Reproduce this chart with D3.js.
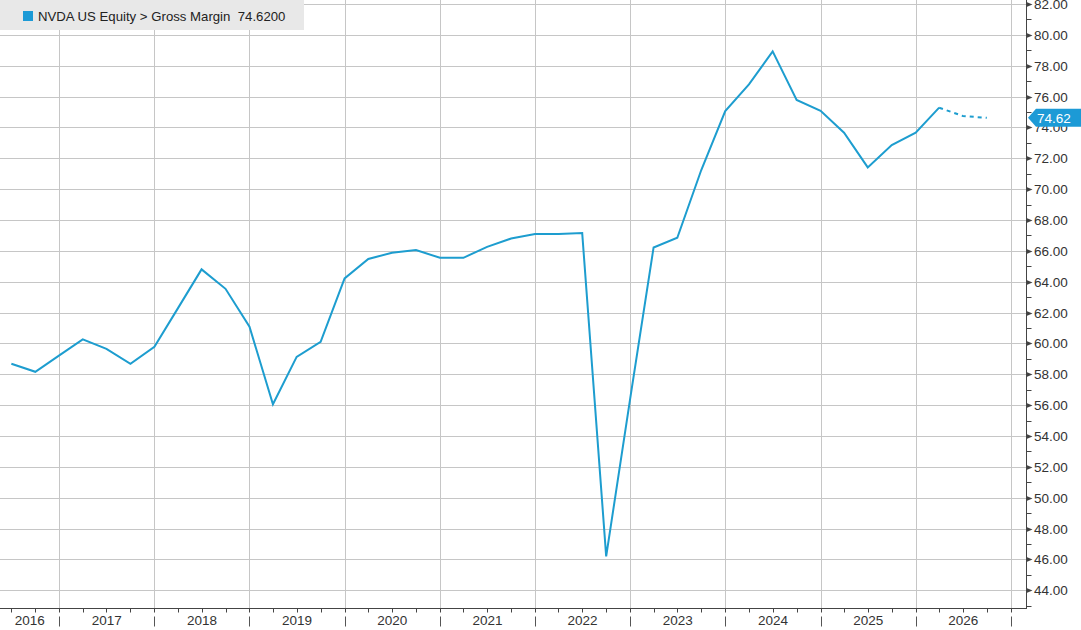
<!DOCTYPE html>
<html><head><meta charset="utf-8">
<script src="https://cdn.jsdelivr.net/npm/d3@7/dist/d3.min.js"></script>
<style>
html,body{margin:0;padding:0;background:#fff;}
svg{display:block;font-family:"Liberation Sans",Arial,sans-serif;}
</style></head>
<body><svg id="c" width="1081" height="630"></svg>
<script>
// ---- data ----
const quarterStarts = ["2016-07-01","2016-10-01","2017-01-01","2017-04-01","2017-07-01","2017-10-01",
 "2018-01-01","2018-04-01","2018-07-01","2018-10-01","2019-01-01","2019-04-01","2019-07-01","2019-10-01",
 "2020-01-01","2020-04-01","2020-07-01","2020-10-01","2021-01-01","2021-04-01","2021-07-01","2021-10-01",
 "2022-01-01","2022-04-01","2022-07-01","2022-10-01","2023-01-01","2023-04-01","2023-07-01","2023-10-01",
 "2024-01-01","2024-04-01","2024-07-01","2024-10-01","2025-01-01","2025-04-01","2025-07-01","2025-10-01",
 "2026-01-01","2026-04-01","2026-07-01","2026-10-01"];
const grossMargin = [58.68,58.16,59.22,60.26,59.65,58.68,59.78,62.27,64.80,63.54,61.08,56.06,59.13,60.10,
 64.21,65.47,65.88,66.05,65.55,65.55,66.26,66.80,67.09,67.09,67.15,46.20,56.40,66.22,66.85,71.24,
 75.06,76.79,78.93,75.78,75.08,73.66,71.41,72.86,73.66,75.28,74.74,74.62];
const estimateFrom = 39; // index where the dashed (estimate) segment starts
const yearLabels = ["2016","2017","2018","2019","2020","2021","2022","2023","2024","2025","2026"];
const yTickValues = d3.range(44, 82.01, 2);
const legendText = "NVDA US Equity > Gross Margin  74.6200";
const lastLabel = "74.62";

// ---- layout ----
const svg = d3.select("#c");
const plotRight = 1026.3, plotBottom = 608.3;
const parse = d3.utcParse("%Y-%m-%d");
const dates = quarterStarts.map(parse);
const data = dates.map((d,i)=>({d, v: grossMargin[i]}));

const x = d3.scaleUtc().domain([parse("2017-01-01"), parse("2026-01-01")]).range([59.3, 915.7]);
const y = d3.scaleLinear().domain([42.83, 82.26]).range([plotBottom, 0]);

const gridColor = "#c6c6c6";
const lineColor = "#1d9dcf";

// horizontal gridlines
svg.append("g").selectAll("line").data(yTickValues).join("line")
  .attr("x1", 0).attr("x2", plotRight)
  .attr("y1", d=>Math.round(y(d))+0.5).attr("y2", d=>Math.round(y(d))+0.5)
  .attr("stroke", gridColor).attr("stroke-width", 1);

// vertical year gridlines
const yearStarts = d3.range(2017, 2028).map(yv => new Date(Date.UTC(yv,0,1)));
svg.append("g").selectAll("line").data(yearStarts.filter(d=>x(d) < plotRight)).join("line")
  .attr("x1", d=>Math.round(x(d))+0.5).attr("x2", d=>Math.round(x(d))+0.5)
  .attr("y1", 0).attr("y2", plotBottom)
  .attr("stroke", gridColor).attr("stroke-width", 1);

// axes lines
svg.append("line").attr("x1",0).attr("x2",plotRight).attr("y1",Math.round(plotBottom)+0.5).attr("y2",Math.round(plotBottom)+0.5)
  .attr("stroke","#444").attr("stroke-width",1);
svg.append("line").attr("x1",Math.round(plotRight)+0.5).attr("x2",Math.round(plotRight)+0.5).attr("y1",0).attr("y2",Math.round(plotBottom)+1)
  .attr("stroke","#444").attr("stroke-width",1);

// right axis: major ticks (small triangles) and minor ticks
const ax = Math.round(plotRight)+0.5;
const yMinor = d3.range(43, 82, 2);
svg.append("g").selectAll("line").data(yMinor).join("line")
  .attr("x1", ax).attr("x2", ax+5)
  .attr("y1", d=>Math.round(y(d))+0.5).attr("y2", d=>Math.round(y(d))+0.5)
  .attr("stroke","#444");
svg.append("g").selectAll("path").data(yTickValues).join("path")
  .attr("d", d=>{const yy=Math.round(y(d))+0.5; return `M${ax},${yy-2.5}L${ax+6},${yy}L${ax},${yy+2.5}Z`;})
  .attr("fill","#444");
svg.append("g").selectAll("text").data(yTickValues).join("text")
  .attr("x", 1034).attr("y", d=>y(d)+5)
  .attr("font-size", 13.5).attr("fill","#333")
  .text(d=>d3.format(".2f")(d));

// bottom axis: quarter ticks, year separators, labels
const quarterTicks = d3.utcMonth.every(3).range(parse("2016-04-01"), parse("2027-01-02")).filter(d=>x(d)>0 && x(d)<plotRight);
const by = Math.round(plotBottom)+0.5;
svg.append("g").selectAll("line").data(quarterTicks).join("line")
  .attr("x1", d=>Math.round(x(d))+0.5).attr("x2", d=>Math.round(x(d))+0.5)
  .attr("y1", by).attr("y2", by+4).attr("stroke","#444");
svg.append("g").selectAll("line").data(yearStarts.filter(d=>x(d)<plotRight)).join("line")
  .attr("x1", d=>Math.round(x(d))+0.5).attr("x2", d=>Math.round(x(d))+0.5)
  .attr("y1", by+8).attr("y2", by+18).attr("stroke","#555");
svg.append("g").selectAll("text").data(yearLabels).join("text")
  .attr("x", (d)=>{
      const a = Math.max(0, x(new Date(Date.UTC(+d,0,1))));
      const b = Math.min(plotRight, x(new Date(Date.UTC(+d+1,0,1))));
      return (a+b)/2;})
  .attr("y", 625).attr("text-anchor","middle")
  .attr("font-size", 13.5).attr("fill","#333").text(d=>d);

// line
const line = d3.line().x(d=>x(d.d)).y(d=>y(d.v));
svg.append("path").datum(data.slice(0, estimateFrom+1))
  .attr("d", line).attr("fill","none").attr("stroke", lineColor)
  .attr("stroke-width", 2).attr("stroke-linejoin","miter");
svg.append("path").datum(data.slice(estimateFrom))
  .attr("d", line).attr("fill","none").attr("stroke", lineColor)
  .attr("stroke-width", 2).attr("stroke-dasharray","4,4");

// last value flag
const ly = y(grossMargin[grossMargin.length-1]);
svg.append("path")
  .attr("d", `M1028,${ly}L1036,${ly-9}L1081,${ly-9}L1081,${ly+9}L1036,${ly+9}Z`)
  .attr("fill","#1c9ad6");
svg.append("text").attr("x", 1037).attr("y", ly+5)
  .attr("font-size", 13.5).attr("fill","#fff").text(lastLabel);

// legend
svg.append("rect").attr("x",0).attr("y",0).attr("width",304).attr("height",30).attr("fill","#e8e8e8");
svg.append("rect").attr("x",23).attr("y",11).attr("width",10).attr("height",10).attr("fill","#1c9ad6");
svg.append("text").attr("x",38).attr("y",20.5).attr("font-size",13.2).attr("fill","#222")
  .style("white-space","pre").text(legendText);
</script></body></html>
